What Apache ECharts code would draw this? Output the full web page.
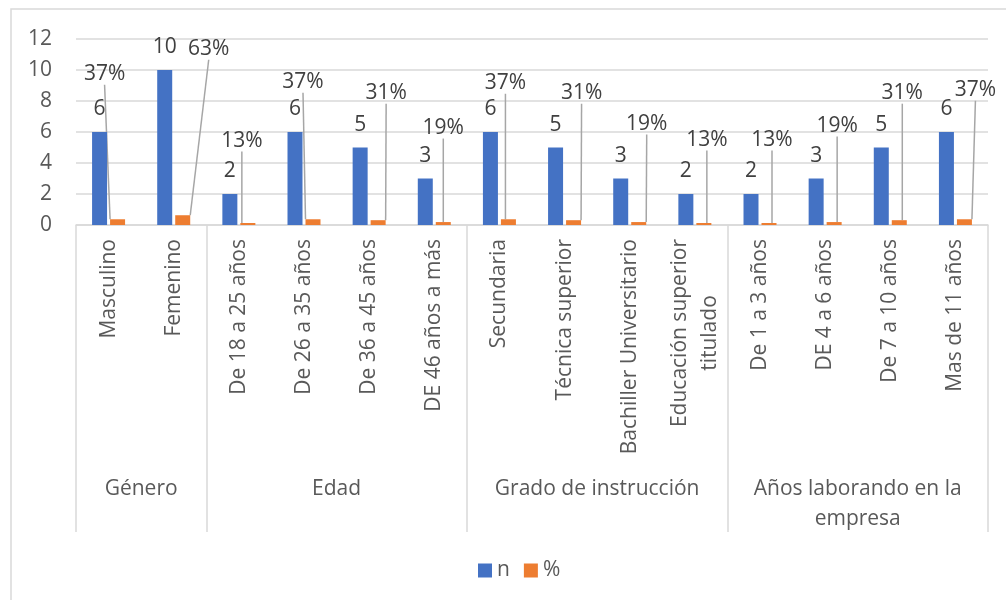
<!DOCTYPE html>
<html>
<head>
<meta charset="utf-8">
<script src="https://cdn.jsdelivr.net/npm/echarts@6/dist/echarts.min.js"></script>
<style>
  html, body { margin: 0; padding: 0; background: #ffffff; }
  #chart { width: 1006px; height: 600px; }
</style>
</head>
<body>
<div id="chart"></div>
<script>
// ---- data ----
const categories = [
  'Masculino', 'Femenino',
  'De 18 a 25 años', 'De 26 a 35 años', 'De 36 a 45 años', 'DE 46 años a más',
  'Secundaria', 'Técnica superior', 'Bachiller Universitario', 'Educación superior titulado',
  'De 1 a 3 años', 'DE 4 a 6 años', 'De 7 a 10 años', 'Mas de 11 años'
];
const groups = ['Género', 'Edad', 'Grado de instrucción', 'Años laborando en la empresa'];
const groupSizes = [2, 4, 4, 4];
const nValues = [6, 10, 2, 6, 5, 3, 6, 5, 3, 2, 2, 3, 5, 6];
const pctValues = [0.37, 0.63, 0.13, 0.37, 0.31, 0.19, 0.37, 0.31, 0.19, 0.13, 0.13, 0.19, 0.31, 0.37];
const yTicks = [0, 2, 4, 6, 8, 10, 12];

// ---- label styling: where each % callout sits relative to its bar ([dx, rise] in px) ----
const pctCallout = [
  [-13, 145], [26, 166], [-6, 82], [-10, 137], [8, 127], [0, 94], [-3, 136],
  [8, 127], [8, 98], [3, 83], [3, 83], [3, 96], [3, 127], [11, 129]
];
const CALLOUT_GAP = 8; // blank space between a % callout and its leader line

// group boundaries and centres on a 0..N scale shared with the category axis
const groupEdges = [0];
groupSizes.forEach(s => groupEdges.push(groupEdges[groupEdges.length - 1] + s));
const groupCenters = groupSizes.map((s, i) => groupEdges[i] + s / 2);

const FONT = '"Open Sans", "Noto Sans", sans-serif';
const TEXT = '#595959';
const GRID_LINE = '#d9d9d9';
const FS = 21;

// wrap long names onto several lines at word boundaries
function wrapName(name, maxChars) {
  if (name.length <= maxChars) return [name];
  const lines = [''];
  name.split(' ').forEach(w => {
    const cur = lines[lines.length - 1];
    const next = cur ? cur + ' ' + w : w;
    if (next.length > maxChars && cur) lines.push(w);
    else lines[lines.length - 1] = next;
  });
  return lines;
}

const chart = echarts.init(document.getElementById('chart'), null, { renderer: 'canvas' });

chart.setOption({
  animation: false,
  backgroundColor: '#ffffff',
  textStyle: { fontFamily: FONT },
  graphic: [{
    type: 'rect',
    shape: { x: 11, y: 9, width: 1200, height: 800 },
    style: { fill: 'none', stroke: GRID_LINE, lineWidth: 1.5 },
    silent: true
  }],
  grid: { left: 76, right: 18, top: 39, bottom: 375 },
  legend: {
    bottom: 14,
    left: 473,
    icon: 'rect',
    itemWidth: 14,
    itemHeight: 14,
    itemGap: 14,
    textStyle: { fontSize: FS, color: TEXT, fontFamily: FONT },
    data: ['n', '%']
  },
  xAxis: [
    {
      type: 'category',
      data: categories,
      axisTick: { show: false },
      axisLine: { lineStyle: { color: GRID_LINE, width: 1.5 } },
      axisLabel: {
        interval: 0,
        rotate: 90,
        margin: 14,
        formatter: v => wrapName(v, 24).map(l => '{c|' + l + '}').join('\n'),
        rich: {
          c: { align: 'center', fontSize: FS, color: TEXT, fontFamily: FONT, lineHeight: 30 }
        }
      }
    },
    {
      type: 'value',
      gridIndex: 0,
      position: 'bottom',
      min: 0,
      max: categories.length,
      axisLine: { show: false },
      splitLine: { show: false },
      axisTick: {
        show: true,
        customValues: groupEdges,
        length: 307,
        lineStyle: { color: GRID_LINE, width: 1.5 }
      },
      axisLabel: {
        customValues: groupCenters,
        formatter: v => wrapName(groups[groupCenters.indexOf(v)], 22).join('\n'),
        margin: 249,
        lineHeight: 30,
        fontSize: FS,
        color: TEXT,
        fontFamily: FONT
      }
    }
  ],
  yAxis: {
    type: 'value',
    min: yTicks[0],
    max: yTicks[yTicks.length - 1],
    interval: yTicks[1] - yTicks[0],
    axisLine: { show: false },
    axisTick: { show: false },
    axisLabel: { fontSize: FS, color: TEXT, margin: 24, fontFamily: FONT },
    splitLine: { lineStyle: { color: GRID_LINE, width: 1.5 } }
  },
  series: [
    {
      name: 'n',
      type: 'bar',
      xAxisIndex: 0,
      data: nValues,
      barWidth: 15,
      barGap: '20%',
      itemStyle: { color: '#4472C4' },
      label: {
        show: true,
        position: 'top',
        distance: 12,
        fontSize: FS,
        color: '#404040',
        fontFamily: FONT
      }
    },
    {
      name: '%',
      type: 'bar',
      xAxisIndex: 0,
      data: pctValues,
      barWidth: 15,
      itemStyle: { color: '#ED7D31' },
      label: {
        show: true,
        position: 'top',
        align: 'center',
        verticalAlign: 'middle',
        padding: [0, 0, CALLOUT_GAP, 0],
        fontSize: FS,
        color: '#404040',
        fontFamily: FONT,
        formatter: p => Math.round(p.value * 100) + '%'
      },
      labelLine: {
        show: true,
        lineStyle: { color: '#a6a6a6', width: 1.5 }
      },
      labelLayout: params => {
        const i = params.dataIndex;
        const r = params.rect;
        return {
          x: r.x + r.width / 2 + pctCallout[i][0],
          y: r.y - pctCallout[i][1],
          align: 'center',
          verticalAlign: 'middle'
        };
      }
    }
  ]
});
</script>
</body>
</html>
